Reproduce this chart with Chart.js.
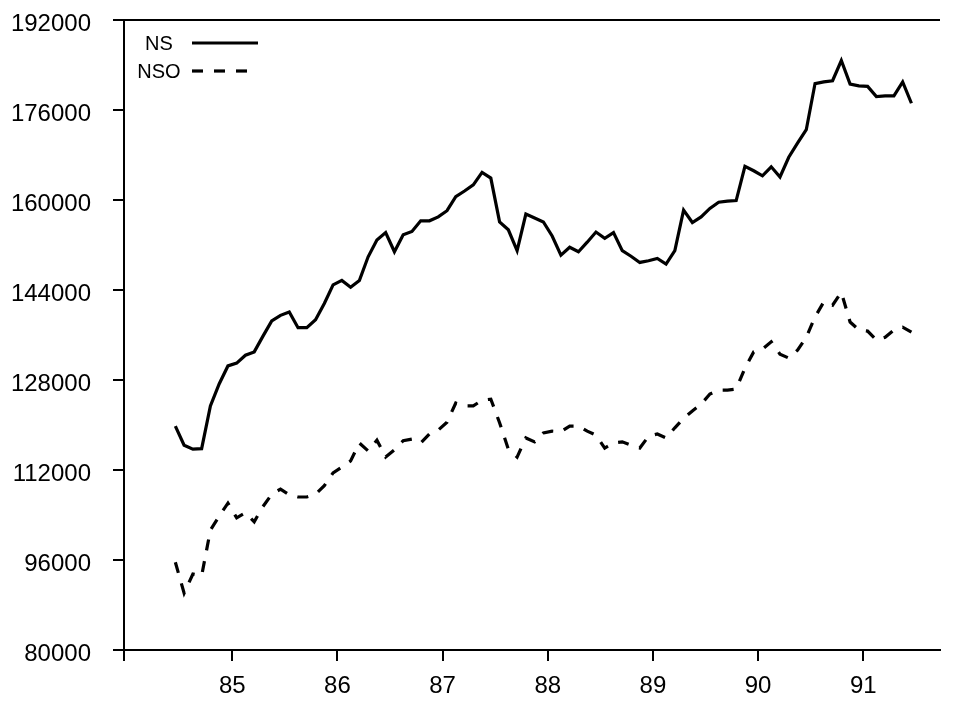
<!DOCTYPE html>
<html><head><meta charset="utf-8">
<script src="https://cdn.jsdelivr.net/npm/chart.js@4.4.1/dist/chart.umd.min.js"></script>
<style>html,body{margin:0;padding:0;background:#fff;}canvas{display:block;}</style>
</head><body>
<canvas id="c" width="954" height="702"></canvas>
<script>
// Monthly series, starting June 1984
const startYear = 84, startMonth = 6;
const seriesNames = ['NS', 'NSO'];
const NS = [119800,116400,115700,115800,123400,127300,130500,131000,132400,133000,
            135800,138500,139500,140100,137300,137300,138700,141600,144900,145700,
            144500,145700,149900,152900,154200,150800,153800,154400,156300,156300,
            157000,158100,160600,161600,162700,164900,163900,156100,154700,151000,
            157500,156800,156100,153600,150200,151600,150800,152500,154300,153200,
            154200,151000,150000,148900,149200,149600,148600,151000,158200,156000,
            157000,158500,159600,159800,159900,166000,165200,164300,165900,164100,
            167600,170100,172500,180700,181000,181200,184800,180600,180300,180200,
            178400,178500,178500,181000,177200];
const NSO = [95600,90100,93500,93200,101300,103800,106100,103500,104400,102800,
             105500,107700,108600,107600,107200,107200,107700,109200,111500,112500,
             113600,116800,115400,117300,114300,115600,117200,117500,116800,118400,
             119100,120500,123900,123400,123400,124400,124600,120400,115700,114300,
             117700,117000,118600,118900,118800,119800,119800,118900,118200,115900,
             116800,117000,116400,115900,118000,118400,117700,119500,121200,122500,
             123700,125500,126200,126200,126400,130100,133000,133500,134800,132600,
             131900,133300,135600,139200,141900,141300,143600,138300,136900,136700,
             135100,135600,136900,137400,136500];
const xTickValues = [85, 86, 87, 88, 89, 90, 91];
const yTickValues = [80000, 96000, 112000, 128000, 144000, 160000, 176000, 192000];

const xOf = i => startYear + (startMonth - 0.5 + i) / 12;
const toPoints = arr => arr.map((v, i) => ({x: xOf(i), y: v}));

const FONT = "'Liberation Sans', Arial, Helvetica, sans-serif";
const X_MIN = 83.97, X_MAX = 91.73;

const topBorder = {
  id: 'topBorder',
  afterDraw(chart) {
    const {ctx, chartArea: a} = chart;
    ctx.save();
    ctx.strokeStyle = '#000'; ctx.lineWidth = 2;
    ctx.beginPath(); ctx.moveTo(a.left, a.top); ctx.lineTo(a.right, a.top); ctx.stroke();
    ctx.restore();
  }
};
const sideLegend = {
  id: 'sideLegend',
  afterDraw(chart) {
    const {ctx, chartArea: a} = chart;
    ctx.save();
    ctx.font = '20px ' + FONT;
    ctx.fillStyle = '#000';
    ctx.textAlign = 'center'; ctx.textBaseline = 'middle';
    chart.data.datasets.forEach((ds, i) => {
      const y = a.top + 23 + 28 * i;
      ctx.fillText(ds.label, a.left + 35, y + 1);
      ctx.strokeStyle = ds.borderColor; ctx.lineWidth = ds.borderWidth;
      ctx.setLineDash(ds.borderDash || []);
      ctx.beginPath(); ctx.moveTo(a.left + 68, y); ctx.lineTo(a.left + 134, y); ctx.stroke();
    });
    ctx.restore();
  }
};

new Chart(document.getElementById('c'), {
  type: 'line',
  data: {
    datasets: [
      {label: seriesNames[0], data: toPoints(NS), borderColor: '#000', borderWidth: 3.2,
       pointRadius: 0, tension: 0, fill: false},
      {label: seriesNames[1], data: toPoints(NSO), borderColor: '#000', borderWidth: 3.2,
       borderDash: [11, 11], pointRadius: 0, tension: 0, fill: false}
    ]
  },
  options: {
    responsive: false, animation: false,
    layout: {padding: {top: 20, right: 14, left: 0, bottom: 0}},
    plugins: {legend: {display: false}, tooltip: {enabled: false}},
    scales: {
      x: {
        type: 'linear', min: X_MIN, max: X_MAX,
        afterBuildTicks: s => { s.ticks = [{value: X_MIN}, ...xTickValues.map(v => ({value: v}))]; },
        afterFit: s => { s.height = 52; s.paddingLeft = 0; s.paddingRight = 0; },
        ticks: {
          callback: v => xTickValues.includes(v) ? String(v) : '',
          font: {family: FONT, size: 24}, color: '#000', padding: 11, maxRotation: 0, autoSkip: false
        },
        grid: {display: true, drawOnChartArea: false, drawTicks: true, tickLength: 11, color: '#000', lineWidth: 2},
        border: {display: true, color: '#000', width: 2}
      },
      y: {
        type: 'linear', min: 80000, max: 192000,
        afterBuildTicks: s => { s.ticks = yTickValues.map(v => ({value: v})); },
        afterFit: s => { s.width = 124; s.paddingTop = 0; s.paddingBottom = 0; },
        ticks: {
          callback: v => String(v),
          font: {family: FONT, size: 24}, color: '#000', padding: 22, labelOffset: 4
        },
        grid: {display: true, drawOnChartArea: false, drawTicks: true, tickLength: 11, color: '#000', lineWidth: 2},
        border: {display: true, color: '#000', width: 2}
      }
    }
  },
  plugins: [topBorder, sideLegend]
});
</script>
</body></html>
